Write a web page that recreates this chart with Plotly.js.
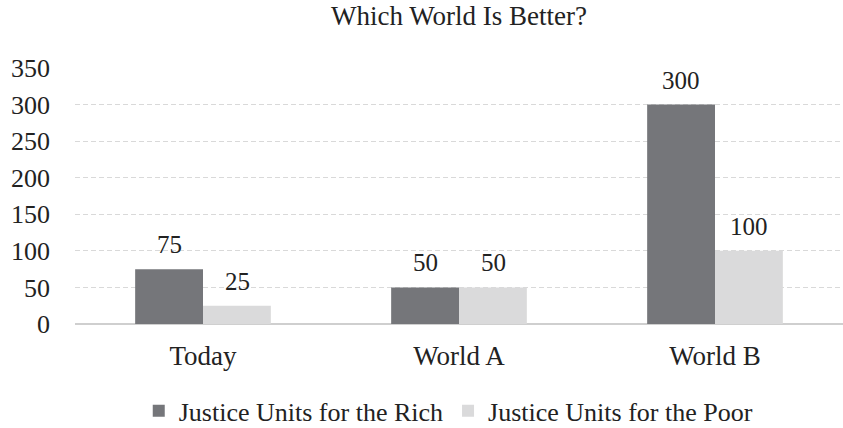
<!DOCTYPE html>
<html>
<head>
<meta charset="utf-8">
<script src="https://cdn.plot.ly/plotly-3.0.1.min.js"></script>
<style>html,body{margin:0;padding:0;background:#fff;}#chart{width:843px;height:428px;}</style>
</head>
<body>
<div id="chart"></div>
<script>
const categories = ["Today", "World A", "World B"];
const richValues = [75, 50, 300];
const poorValues = [25, 50, 100];
const seriesNames = ["Justice Units for the Rich", "Justice Units for the Poor"];
const yTicks = [0, 50, 100, 150, 200, 250, 300, 350];

const FONT = "Liberation Serif";
const DARK = "#75767a";
const LIGHT = "#dadadb";
const TXT = "#222";

const traces = [
  {type: "bar", name: seriesNames[0], x: categories, y: richValues, marker: {color: DARK}, hoverinfo: "none"},
  {type: "bar", name: seriesNames[1], x: categories, y: poorValues, marker: {color: LIGHT}, hoverinfo: "none"}
];

const annotations = [];
[richValues, poorValues].forEach((vals, si) => {
  vals.forEach((v, i) => {
    annotations.push({
      x: categories[i], y: v, xref: "x", yref: "y",
      text: String(v), showarrow: false,
      xanchor: "center", yanchor: "bottom",
      xshift: si === 0 ? -34 : 34, yshift: 9,
      font: {family: FONT, size: 25, color: TXT}
    });
  });
});

const layout = {
  width: 843, height: 428,
  margin: {l: 75, r: 0, t: 68, b: 104},
  paper_bgcolor: "#fff", plot_bgcolor: "#fff",
  title: {text: "Which World Is Better?", font: {family: FONT, size: 27, color: TXT}, x: 0.5, xanchor: "center", xref: "paper", y: 0.985, yanchor: "top"},
  barmode: "group", bargap: 0.47, bargroupgap: 0,
  xaxis: {
    showgrid: false, showline: false, zeroline: false,
    tickfont: {family: FONT, size: 27, color: TXT},
    ticks: "", ticklabelstandoff: 13
  },
  yaxis: {
    range: [0, 350], tickvals: yTicks, ticktext: yTicks.map(String),
    showgrid: true, gridcolor: "#d9d9d9", griddash: "5px,3px", gridwidth: 1,
    zeroline: true, zerolinecolor: "#cfcfcf", zerolinewidth: 1.5,
    showline: false, ticks: "",
    tickfont: {family: FONT, size: 26, color: TXT},
    ticklabelstandoff: 24
  },
  showlegend: true,
  legend: {
    orientation: "h", x: 0.486, xanchor: "center", yref: "container", y: 0.04, yanchor: "middle",
    font: {family: FONT, size: 26, color: TXT},
    itemwidth: 30, traceorder: "normal", itemclick: false
  },
  annotations: annotations
};

Plotly.newPlot("chart", traces, layout, {displayModeBar: false, staticPlot: true});
</script>
</body>
</html>
